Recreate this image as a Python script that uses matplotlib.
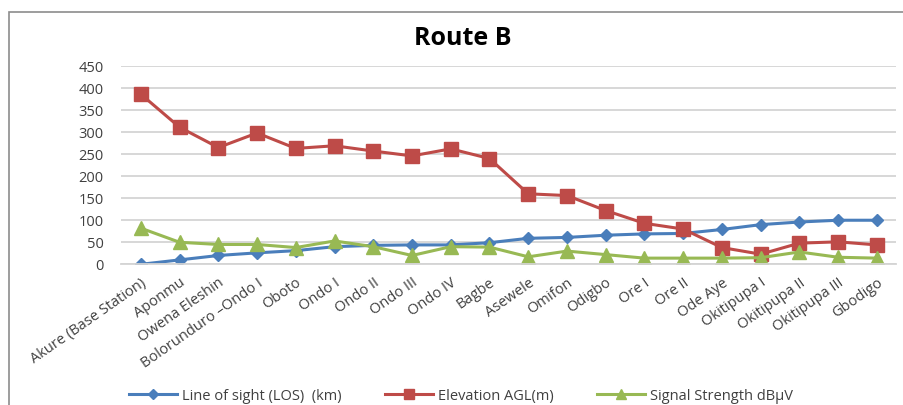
import matplotlib
matplotlib.use("Agg")
import matplotlib.pyplot as plt
from matplotlib.patches import Rectangle

plt.rcParams['font.family'] = ['Open Sans', 'DejaVu Sans']

# --- data ---
stations = ["Akure (Base Station)", "Aponmu", "Owena Eleshin", "Bolorunduro \u2013Ondo I",
            "Oboto", "Ondo I", "Ondo II", "Ondo III", "Ondo IV", "Bagbe", "Asewele",
            "Omifon", "Odigbo", "Ore I", "Ore II", "Ode Aye", "Okitipupa I",
            "Okitipupa II", "Okitipupa III", "Gbodigo"]
los_km = [0, 10, 20, 26, 31, 40, 43, 44, 44, 49, 59, 61, 66, 69, 70, 79, 90, 96, 100, 100]
elevation_m = [386, 311, 265, 298, 263, 269, 257, 246, 262, 240, 160, 156, 122, 93, 80,
               38, 23, 48, 51, 44]
signal_dbuv = [82, 50, 45, 45, 38, 53, 40, 20, 40, 39, 17, 30, 22, 14, 14, 14, 15, 28, 16, 14]

blue = "#4A7EBB"
red = "#BE4B48"
green = "#98B954"

fig = plt.figure(figsize=(9.04, 4.05), dpi=100)
ax = fig.add_axes([0.1344, 0.3474, 0.857, 0.4896])

# outer chart frame (only left and top visible in the crop)
fig.patches.append(Rectangle((9 / 904, -0.1), 1.2, 1 - 12 / 405 + 0.1,
                             transform=fig.transFigure, fill=False,
                             edgecolor="#8C8C8C", lw=1.2, zorder=0))

x = range(len(stations))
ax.plot(x, los_km, color=blue, lw=2.2, marker="D", ms=6.5, label="Line of sight (LOS)  (km)")
ax.plot(x, elevation_m, color=red, lw=2.2, marker="s", ms=10, label="Elevation AGL(m)")
ax.plot(x, signal_dbuv, color=green, lw=2.2, marker="^", ms=9.5, label="Signal Strength dB\u00b5V")

ax.set_xlim(-0.5, len(stations) - 0.5)
ax.set_ylim(0, 450)
ax.set_yticks(range(0, 451, 50))
ax.yaxis.grid(True, color="#D4D4D4", lw=1.3)
ax.set_axisbelow(True)
for s in ["top", "right", "left"]:
    ax.spines[s].set_visible(False)
ax.spines["bottom"].set_color("#D4D4D4")
ax.spines["bottom"].set_linewidth(1.3)
ax.tick_params(axis="both", length=0, colors="#404040", labelsize=10.5)
ax.tick_params(axis="y", pad=13)
ax.set_xticks(list(x))
ax.set_xticklabels(stations, rotation=35, ha="right", rotation_mode="anchor")
ax.tick_params(axis="x", pad=8)

fig.text(0.512, 0.906, "Route B", ha="center", va="center", fontsize=18, fontweight="bold")

fig.legend(loc="center", bbox_to_anchor=(0.51, 0.022), ncol=3, frameon=False,
           fontsize=10.5, handlelength=3.3, columnspacing=3.0, handletextpad=0.3,
           markerscale=0.75, labelcolor="#404040")

fig.savefig("out.png", dpi=100)
